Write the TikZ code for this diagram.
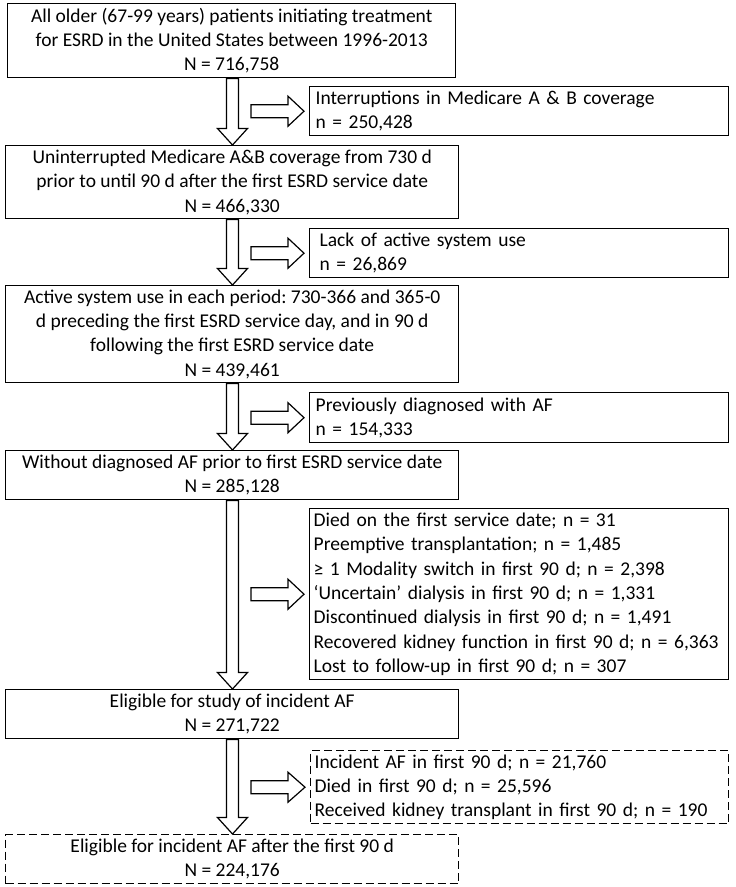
\documentclass[tikz,border=0pt]{standalone}
\usepackage{fontspec}
\setmainfont{Carlito}
\usetikzlibrary{calc}
\frenchspacing

\tikzset{
	mainbox/.style={draw, line width=1.4pt, anchor=north west, align=center, inner xsep=2pt, inner ysep=0pt, font=\fontsize{19.5}{24.4}\selectfont},
	sidebox/.style={draw, line width=1.4pt, anchor=north west, align=left, inner xsep=4pt, inner ysep=0pt, font=\fontsize{19.5}{24.4}\selectfont},
	dashbox/.style={dash pattern=on 8pt off 4pt},
	blockarrow/.style={draw, line width=1.2pt, fill=white, line join=miter}
}

% hollow arrow from one box down to the next one
\newcommand{\flowdown}[2]{%
	\draw[blockarrow] let \p1=(#1.south), \p2=(#2.north) in
		(226.5pt,\y1) -- (238.5pt,\y1) -- (238.5pt,{\y2+16.5pt}) -- (247.5pt,{\y2+16.5pt}) -- (232.5pt,\y2)
		-- (217.5pt,{\y2+16.5pt}) -- (226.5pt,{\y2+16.5pt}) -- cycle;}
% hollow arrow pointing to an excluded box
\newcommand{\flowright}[1]{%
	\draw[blockarrow] let \p1=(#1.west) in
		(251pt,{\y1+6.5pt}) -- (288pt,{\y1+6.5pt}) -- (288pt,{\y1+15pt}) -- ({\x1-5pt},\y1)
		-- (288pt,{\y1-15pt}) -- (288pt,{\y1-6.5pt}) -- (251pt,{\y1-6.5pt}) -- cycle;}

\begin{document}
\begin{tikzpicture}[x=1pt, y=-1pt]
	\useasboundingbox (0,0) rectangle (736,887);
	
	\node[mainbox, minimum width=448pt, minimum height=74pt] (b1) at (7,3)
		{All older (67-99 years) patients initiating treatment\\for ESRD in the United States between 1996-2013\\N = 716,758};
	\node[sidebox, minimum width=419pt, text width=411pt, minimum height=49pt] (s1) at (309,86)
		{\hspace*{2pt}Interruptions in Medicare A \& B coverage\\\hspace*{2pt}n = 250,428};
	
	\node[mainbox, minimum width=453pt, minimum height=73pt] (b2) at (5,145)
		{Uninterrupted Medicare A\&B coverage from 730 d\\prior to until 90 d after the first ESRD service date\\N = 466,330};
	\node[sidebox, minimum width=419pt, text width=411pt, minimum height=49pt] (s2) at (309,228)
		{\hspace*{6pt}Lack of active system use\\\hspace*{6pt}n = 26,869};
	
	\node[mainbox, minimum width=453pt, minimum height=97pt] (b3) at (5,285)
		{Active system use in each period: 730-366 and 365-0\\d preceding the first ESRD service day, and in 90 d\\following the first ESRD service date\\N = 439,461};
	\node[sidebox, minimum width=419pt, text width=411pt, minimum height=50pt] (s3) at (309,392)
		{\hspace*{2pt}Previously diagnosed with AF\\\hspace*{2pt}n = 154,333};
	
	\node[mainbox, minimum width=453pt, minimum height=49pt] (b4) at (5,450)
		{Without diagnosed AF prior to first ESRD service date\\N = 285,128};
	\node[sidebox, minimum width=419pt, text width=411pt, minimum height=171pt] (s4) at (309,508)
		{Died on the first service date; n = 31\\
		Preemptive transplantation; n = 1,485\\
		≥ 1 Modality switch in first 90 d; n = 2,398\\
		‘Uncertain’ dialysis in first 90 d; n = 1,331\\
		Discontinued dialysis in first 90 d; n = 1,491\\
		Recovered kidney function in first 90 d; n = 6,363\\
		Lost to follow-up in first 90 d; n = 307};
	
	\node[mainbox, minimum width=453pt, minimum height=49pt] (b5) at (5,689)
		{Eligible for study of incident AF\\N = 271,722};
	\node[sidebox, dashbox, minimum width=418pt, text width=410pt, minimum height=73pt] (s5) at (310,750)
		{Incident AF in first 90 d; n = 21,760\\Died in first 90 d; n = 25,596\\Received kidney transplant in first 90 d; n = 190};
	
	\node[mainbox, dashbox, minimum width=453pt, minimum height=49pt] (b6) at (5,834)
		{Eligible for incident AF after the first 90 d\\N = 224,176};
	
	\flowdown{b1}{b2}
	\flowdown{b2}{b3}
	\flowdown{b3}{b4}
	\flowdown{b4}{b5}
	\flowdown{b5}{b6}
	\foreach \s in {s1, s2, s3, s4, s5} {
		\flowright{\s}
	}
\end{tikzpicture}
\end{document}
